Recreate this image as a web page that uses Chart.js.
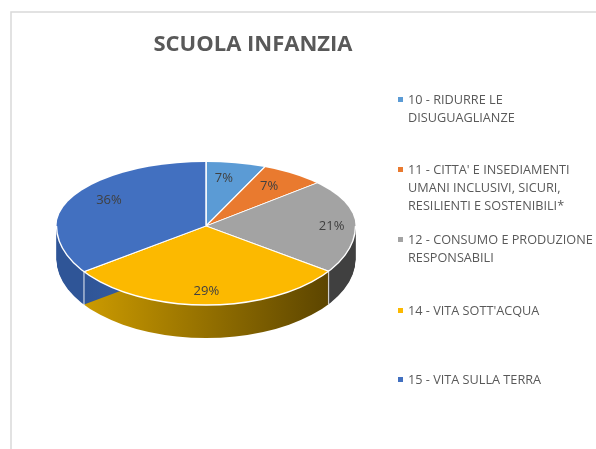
<!DOCTYPE html>
<html>
<head>
<meta charset="utf-8">
<script src="https://cdn.jsdelivr.net/npm/chart.js@4"></script>
<style>
    html, body { margin: 0; padding: 0; background: #fff; overflow: hidden; }
    canvas { display: block; }
</style>
</head>
<body>
<canvas id="pie" width="596" height="449"></canvas>
<script>
const chartTitle = "SCUOLA INFANZIA";
const categories = [
    ["10 - RIDURRE LE", "DISUGUAGLIANZE"],
    ["11 - CITTA' E INSEDIAMENTI", "UMANI INCLUSIVI, SICURI,", "RESILIENTI E SOSTENIBILI*"],
    ["12 - CONSUMO E PRODUZIONE", "RESPONSABILI"],
    ["14 - VITA SOTT'ACQUA"],
    ["15 - VITA SULLA TERRA"]
];
const shares = [7.1, 7.1, 21.4, 28.6, 35.7];

const topColors = ["#5b9bd5", "#e97a2f", "#a3a3a3", "#fcb900", "#4270c0"];
const sideFrom = ["#3d6f9e", "#a8581f", "#404040", "#5c4500", "#2f5597"];
const sideTo = ["#3d6f9e", "#a8581f", "#404040", "#cc9b00", "#3a66ae"];

// where each percent label sits, as a fraction of the radius (x, y)
const labelFracX = [0.54, 0.68, 0.84, 0.8, 0.72];
const labelFracY = [0.78, 0.82, 0.8, 0.81, 0.97];
const legendY = [100, 170, 240, 311, 380];

// pie tilt: perspective makes the back half narrower in angle, the front wider
const radiusX = 149.5, backY = 64, frontY = 79, depth = 33;
const backStretch = 0.89, frontStretch = 1.13, overscan = 1.25;

function tilted(ctx, el, front, shift, paint) {
    const R = el.outerRadius;
    const ry = front ? frontY : backY;
    const k = front ? frontStretch : backStretch;
    ctx.save();
    ctx.beginPath();
    if (front) ctx.ellipse(el.x, el.y + shift, radiusX, ry, 0, 0, Math.PI);
    else ctx.ellipse(el.x, el.y + shift, radiusX, ry, 0, Math.PI, Math.PI * 2);
    ctx.closePath();
    ctx.clip();
    ctx.translate(el.x, el.y + shift);
    ctx.scale(radiusX * k * overscan / R, ry * overscan / R);
    ctx.translate(-el.x, -el.y);
    paint();
    ctx.restore();
}

// where a slice edge at this angle meets the front rim
function frontRim(el, angle) {
    const c = frontStretch * Math.cos(angle), s = Math.sin(angle);
    const t = 1 / Math.sqrt(c * c + s * s);
    return { x: el.x + radiusX * c * t, y: el.y + frontY * s * t, t: t };
}

const pie3d = {
    id: "pie3d",
    beforeDatasetDraw(chart, args) {
        const ctx = chart.ctx;
        const arcs = args.meta.data;

        // walls: the slices repeated downwards in the darker colours
        arcs.forEach((el, i) => {
            const opts = el.options;
            const R = el.outerRadius;
            const x0 = el.x + R * Math.cos(el.startAngle) * frontRim(el, el.startAngle).t / overscan;
            const x1 = el.x + R * Math.cos(el.endAngle) * frontRim(el, el.endAngle).t / overscan;
            const grad = ctx.createLinearGradient(x0, 0, x1 === x0 ? x0 + 1 : x1, 0);
            grad.addColorStop(0, sideFrom[i]);
            grad.addColorStop(1, sideTo[i]);
            el.options = Object.assign({}, opts, { backgroundColor: grad, borderWidth: 0, borderColor: "transparent" });
            for (let d = depth; d >= 1; d--) {
                tilted(ctx, el, true, d, () => el.draw(ctx));
            }
            el.options = opts;
        });

        // light edges on the wall at both ends of the front slice
        const front = arcs[3];
        [front.startAngle, front.endAngle].forEach(a => {
            const p = frontRim(front, a);
            ctx.strokeStyle = "rgba(255,255,255,0.75)";
            ctx.lineWidth = 1.2;
            ctx.beginPath();
            ctx.moveTo(p.x, p.y);
            ctx.lineTo(p.x, p.y + depth);
            ctx.stroke();
        });

        // top face
        [false, true].forEach(isFront => {
            arcs.forEach(el => tilted(ctx, el, isFront, 0, () => el.draw(ctx)));
        });

        // white rim along the front edge of the top face
        ctx.strokeStyle = "#ffffff";
        ctx.lineWidth = 1.4;
        ctx.beginPath();
        ctx.ellipse(front.x, front.y, radiusX, frontY, 0, 0, Math.PI);
        ctx.stroke();
        return false;
    },
    afterDraw(chart) {
        const ctx = chart.ctx;
        const arcs = chart.getDatasetMeta(0).data;

        // chart frame
        ctx.strokeStyle = "#d9d9d9";
        ctx.lineWidth = 1.5;
        ctx.beginPath();
        ctx.moveTo(11, 449);
        ctx.lineTo(11, 12);
        ctx.lineTo(596, 12);
        ctx.stroke();

        ctx.textBaseline = "middle";
        ctx.textAlign = "center";
        ctx.fillStyle = "#595959";
        ctx.font = "bold 22px 'Open Sans'";
        ctx.fillText(chartTitle, 253, 45);

        // percent labels
        ctx.fillStyle = "#404040";
        ctx.font = "13px 'Open Sans'";
        arcs.forEach((el, i) => {
            const mid = (el.startAngle + el.endAngle) / 2;
            const sin = Math.sin(mid);
            const x = el.x + radiusX * Math.cos(mid) * labelFracX[i];
            const y = el.y + (sin < 0 ? backY : frontY) * sin * labelFracY[i];
            ctx.fillText(Math.round(shares[i]) + "%", x, y + 1);
        });

        // legend
        ctx.textAlign = "left";
        ctx.font = "12.7px 'Open Sans'";
        categories.forEach((lines, i) => {
            ctx.fillStyle = topColors[i];
            ctx.fillRect(398, legendY[i] - 3, 5, 5);
            ctx.fillStyle = "#595959";
            lines.forEach((line, k) => ctx.fillText(line, 408, legendY[i] + k * 18));
        });
    }
};

new Chart(document.getElementById("pie"), {
    type: "pie",
    data: {
        labels: categories.map(c => c.join(" ")),
        datasets: [{
            data: shares,
            backgroundColor: topColors,
            borderColor: "#ffffff",
            borderWidth: 1.3
        }]
    },
    options: {
        responsive: false,
        animation: false,
        events: [],
        layout: { padding: { left: 56, right: 240, top: 76, bottom: 73 } },
        plugins: {
            legend: { display: false },
            title: { display: false },
            tooltip: { enabled: false }
        }
    },
    plugins: [pie3d]
});
</script>
</body>
</html>
